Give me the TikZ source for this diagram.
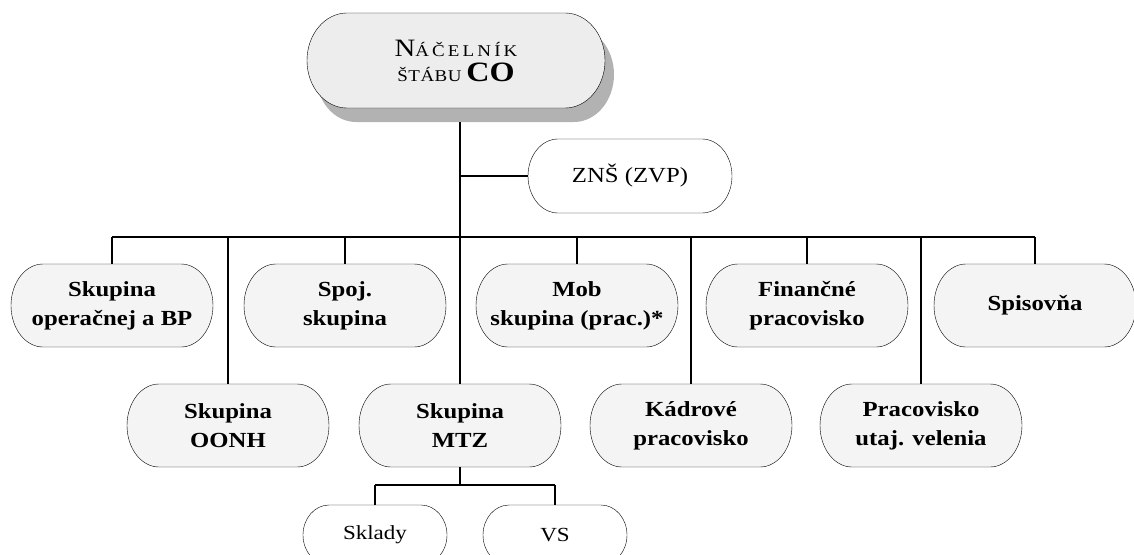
\documentclass[tikz,border=0pt]{standalone}
\usepackage{fontspec}
\setmainfont{Liberation Serif}[FakeStretch=1.15]
\usetikzlibrary{backgrounds}

\newcommand{\scbig}[1]{{\fontsize{25}{25}\selectfont #1}}
\newcommand{\scsmall}[2]{{\fontsize{16.5}{25}\selectfont\addfontfeature{LetterSpace=#1}#2}}

\begin{document}
\begin{tikzpicture}[x=1pt, y=-1pt,
  box/.style={inner sep=0pt, minimum width=202pt, minimum height=83pt,
    align=center, font=\bfseries\fontsize{21.5}{29}\selectfont},
  leaf/.style={inner sep=0pt, minimum width=144pt, minimum height=60pt,
    font=\fontsize{20}{25}\selectfont},
  link/.style={line width=1.6pt}]
  \useasboundingbox (0,0) rectangle (1134,554);
  \clip (0,0) rectangle (1134,554);

  % Head
  \node[inner sep=0pt, minimum width=298pt, minimum height=95pt, align=center,
    font=\fontsize{16.5}{25}\selectfont] (head) at (456,60.5)
    {\scbig{N}\scsmall{19}{ÁČELNÍK}\\\scsmall{3}{ŠTÁBU} {\fontsize{28}{25}\selectfont\bfseries CO}};
  \node[inner sep=0pt, minimum width=204pt, minimum height=74pt,
    font=\fontsize{21.5}{27}\selectfont] (zns) at (630,176) {ZNŠ (ZVP)};

  % Upper row
  \node[box] (oper) at (112,305.5) {Skupina\\operačnej a BP};
  \node[box] (spoj) at (345,305.5) {Spoj.\\skupina};
  \node[box] (mob) at (577,305.5) {Mob\\skupina (prac.)*};
  \node[box] (fin) at (807,305.5) {Finančné\\pracovisko};
  \node[box] (spis) at (1035,305.5) {Spisovňa};

  % Lower row
  \node[box] (oonh) at (228,425.5) {Skupina\\OONH};
  \node[box] (mtz) at (460,425.5) {Skupina\\MTZ};
  \node[box] (kadr) at (691,425.5) {Kádrové\\pracovisko};
  \node[box] (utaj) at (921,425.5) {Pracovisko\\utaj. velenia};

  % Under MTZ
  \node[leaf] (sklady) at (375,535) {Sklady};
  \node[leaf] (vs) at (555,535) {VS};

  % Outlines
  \begin{scope}[on background layer, line width=1.5pt]
    \fill[gray!60] ([shift={(-100pt,33.5pt)}]head.center) -- ++(218pt,0pt)
      arc[start angle=90, end angle=-90, x radius=40pt, y radius=47.5pt] -- ++(-218pt,0pt)
      arc[start angle=270, end angle=90, x radius=40pt, y radius=47.5pt] -- cycle;
    \foreach \n/\w/\h/\r/\c in {head/109/47.5/40/gray!14, zns/72/37/30/white,
        oper/69/41.5/32/gray!9, spoj/69/41.5/32/gray!9, mob/69/41.5/32/gray!9,
        fin/69/41.5/32/gray!9, spis/69/41.5/32/gray!9, oonh/69/41.5/32/gray!9,
        mtz/69/41.5/32/gray!9, kadr/69/41.5/32/gray!9, utaj/69/41.5/32/gray!9,
        sklady/46/30/26/white, vs/46/30/26/white}
      \draw[fill=\c] ([shift={(-\w pt,\h pt)}]\n.center) -- ++(2*\w pt,0pt)
        arc[start angle=90, end angle=-90, x radius=\r pt, y radius=\h pt] -- ++(-2*\w pt,0pt)
        arc[start angle=270, end angle=90, x radius=\r pt, y radius=\h pt] -- cycle;
  \end{scope}

  % Connectors
  \coordinate (foot) at ([xshift=4pt, yshift=-14pt]head.south);
  \coordinate (bus) at (460,237);
  \coordinate (fork) at (460,485);
  \draw[link] (foot) -- (mtz.north);
  \draw[link] (foot |- zns.west) -- (zns.west);
  \draw[link] (oper.north |- bus) -- (spis.north |- bus);
  \foreach \n in {oper, spoj, mob, fin, spis, oonh, kadr, utaj}
    \draw[link] (\n.north |- bus) -- (\n.north);
  \draw[link] (mtz.south) -- (fork);
  \draw[link] (sklady.north |- fork) -- (vs.north |- fork);
  \draw[link] (sklady.north |- fork) -- (sklady.north);
  \draw[link] (vs.north |- fork) -- (vs.north);
\end{tikzpicture}
\end{document}
